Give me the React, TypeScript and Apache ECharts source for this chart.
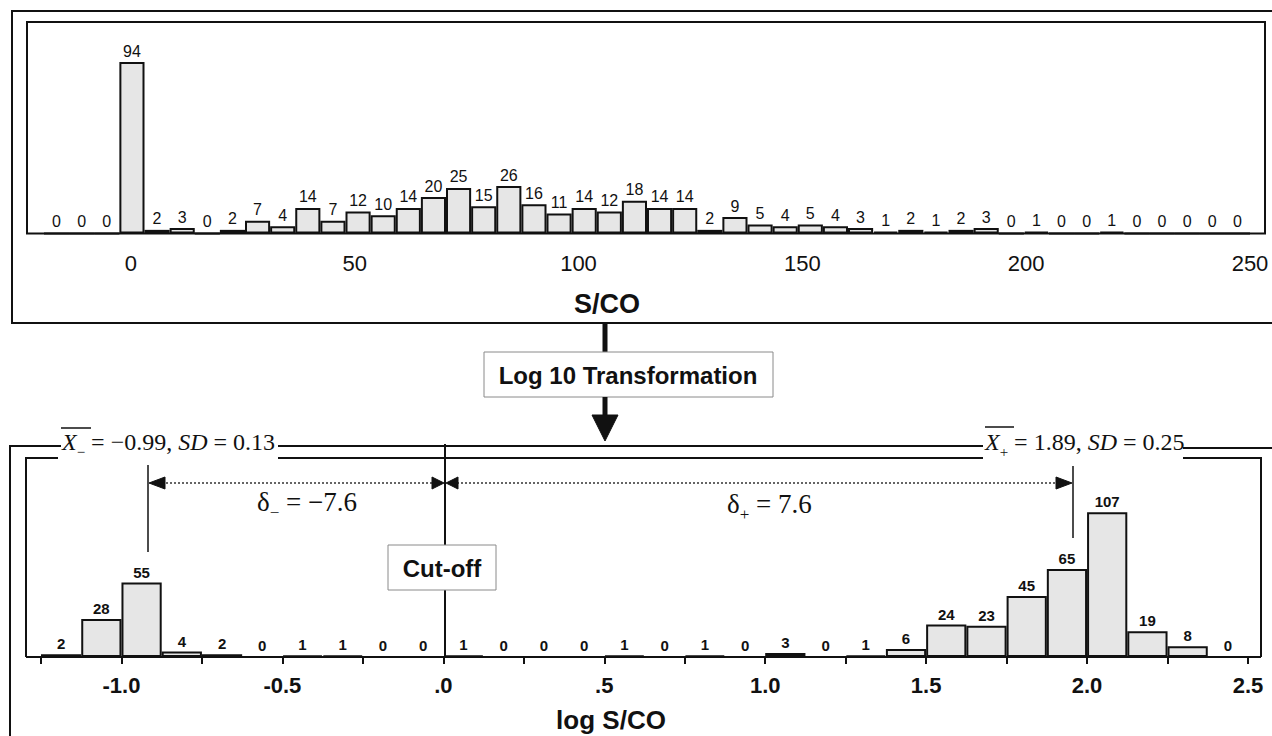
import React, { useEffect, useRef } from "react";
import * as echarts from "echarts";

// ---------- DATA ----------
// Upper histogram: raw S/CO, 48 bins
const topBins = [
  "b01", "b02", "b03", "b04", "b05", "b06", "b07", "b08", "b09", "b10", "b11", "b12",
  "b13", "b14", "b15", "b16", "b17", "b18", "b19", "b20", "b21", "b22", "b23", "b24",
  "b25", "b26", "b27", "b28", "b29", "b30", "b31", "b32", "b33", "b34", "b35", "b36",
  "b37", "b38", "b39", "b40", "b41", "b42", "b43", "b44", "b45", "b46", "b47", "b48",
];
const topCounts = [
  0, 0, 0, 94, 2, 3, 0, 2, 7, 4, 14, 7, 12, 10, 14, 20, 25, 15, 26, 16, 11, 14, 12, 18,
  14, 14, 2, 9, 5, 4, 5, 4, 3, 1, 2, 1, 2, 3, 0, 1, 0, 0, 1, 0, 0, 0, 0, 0,
];
const topTickValues = [0, 50, 100, 150, 200, 250];

// Lower histogram: log10 S/CO, bins of 0.125 from -1.25 to 2.5
const bottomBins = [
  "-1.250", "-1.125", "-1.000", "-0.875", "-0.750", "-0.625", "-0.500", "-0.375",
  "-0.250", "-0.125", "0.000", "0.125", "0.250", "0.375", "0.500", "0.625",
  "0.750", "0.875", "1.000", "1.125", "1.250", "1.375", "1.500", "1.625",
  "1.750", "1.875", "2.000", "2.125", "2.250", "2.375",
];
const bottomCounts = [
  2, 28, 55, 4, 2, 0, 1, 1, 0, 0, 1, 0, 0, 0, 1, 0, 1, 0, 3, 0, 1, 6, 24, 23, 45, 65, 107, 19, 8, 0,
];
const bottomTickValues = [-1, -0.5, 0, 0.5, 1, 1.5, 2, 2.5];
const bottomTickLabels = ["-1.0", "-0.5", ".0", ".5", "1.0", "1.5", "2.0", "2.5"];

// ---------- STYLE ----------
const SANS = '"Liberation Sans", Arial, Helvetica, sans-serif';
const SERIF = '"Liberation Serif", "Times New Roman", serif';
const INK = "#111";
const BAR_FILL = "#e6e6e6";

function pl(points: number[][], w = 2, extra: any = {}) {
  return {
    type: "polyline",
    silent: true,
    shape: { points },
    style: { stroke: INK, lineWidth: w, fill: null, ...extra },
  };
}

function poly(points: number[][]) {
  return { type: "polygon", silent: true, shape: { points }, style: { fill: INK, stroke: INK, lineWidth: 1 } };
}

function txt(x: number, y: number, text: string, size: number, weight = "normal", family = SANS, align = "center") {
  return {
    type: "text",
    silent: true,
    x,
    y,
    style: {
      text,
      fontSize: size,
      fontWeight: weight,
      fontFamily: family,
      fill: INK,
      textAlign: align,
      align,
      textVerticalAlign: "middle",
      verticalAlign: "middle",
    },
  };
}

function richTxt(x: number, y: number, text: string, size: number, subSize: number, lh: number) {
  const base = { fontFamily: SERIF, fill: INK, color: INK };
  return {
    type: "text",
    silent: true,
    x,
    y,
    style: {
      text,
      fontFamily: SERIF,
      fontSize: size,
      fill: INK,
      textAlign: "left",
      align: "left",
      textVerticalAlign: "middle",
      verticalAlign: "middle",
      rich: {
        i: { ...base, fontStyle: "italic", fontSize: size, lineHeight: lh },
        n: { ...base, fontSize: size, lineHeight: lh },
        s: { ...base, fontSize: subSize, lineHeight: lh, verticalAlign: "bottom" },
      },
    },
  };
}

export default function App() {
  const ref = useRef<HTMLDivElement>(null);

  useEffect(() => {
    document.body.style.margin = "0";
    const chart = echarts.init(ref.current as HTMLDivElement, null, { renderer: "svg" });

    const barStyle = { color: BAR_FILL, borderColor: INK, borderWidth: 2 };

    const graphics: any[] = [
      // upper panel frames
      { type: "rect", silent: true, shape: { x: 12, y: 11, width: 1290, height: 312 }, style: { fill: null, stroke: INK, lineWidth: 2 } },
      { type: "rect", silent: true, shape: { x: 27, y: 22, width: 1238, height: 211.5 }, style: { fill: null, stroke: INK, lineWidth: 2 } },
      txt(607, 304, "S/CO", 27, "bold"),

      // transformation connector
      pl([[605, 324], [605, 352]], 5),
      { type: "rect", silent: true, shape: { x: 484, y: 352, width: 289, height: 45 }, style: { fill: "#fff", stroke: "#8a8a8a", lineWidth: 1 } },
      txt(628, 375, "Log 10 Transformation", 24, "bold"),
      pl([[605, 397], [605, 418]], 5),
      poly([[592, 415], [618, 415], [605, 441]]),

      // lower panel frames (double line with gaps for statistics)
      pl([[10, 760], [10, 446], [61, 446]]),
      pl([[278, 446], [983, 446]]),
      pl([[1183, 448], [1290, 448]]),
      pl([[26, 657], [26, 458], [58, 458]]),
      pl([[278, 458], [983, 458]]),
      pl([[1183, 458], [1261, 458], [1261, 657]]),
      pl([[26, 657], [1261, 657]]),

      // statistics text
      richTxt(62, 442, "{i|X}{s|−}{n| = −0.99, }{i|SD}{n| = 0.13}", 24, 15, 34),
      pl([[61, 428], [91, 428]], 1.5),
      richTxt(985, 442, "{i|X}{s|+}{n| = 1.89, }{i|SD}{n| = 0.25}", 24, 15, 34),
      pl([[985, 427], [1014, 427]], 1.5),

      // mean markers
      pl([[148, 465], [148, 552]], 1.5),
      pl([[1073, 466], [1073, 538]], 1.5),

      // cut-off line
      pl([[445, 444], [445, 657]], 2),

      // distance arrows
      pl([[162, 483], [433, 483]], 1.5, { lineDash: [2, 2], stroke: "#333" }),
      pl([[457, 483], [1057, 483]], 1.5, { lineDash: [2, 2], stroke: "#333" }),
      poly([[149, 483], [165, 477], [165, 489]]),
      poly([[444, 483], [432, 477], [432, 489]]),
      poly([[446, 483], [458, 477], [458, 489]]),
      poly([[1072, 483], [1056, 477], [1056, 489]]),

      richTxt(257, 502, "{n|δ}{s|−}{n| = −7.6}", 27, 17, 38),
      richTxt(727, 504, "{n|δ}{s|+}{n| = 7.6}", 27, 17, 38),

      // cut-off label
      { type: "rect", silent: true, shape: { x: 388, y: 545, width: 108, height: 45 }, style: { fill: "#fff", stroke: "#8a8a8a", lineWidth: 1 } },
      txt(442, 568, "Cut-off", 24, "bold"),

      txt(611, 720, "log S/CO", 26, "bold"),
    ];

    const option: any = {
      animation: false,
      backgroundColor: "#fff",
      textStyle: { fontFamily: SANS },
      grid: [
        { left: 44, right: 22, top: 22, bottom: 502.5, containLabel: false },
        { left: 41, right: 24, top: 458, bottom: 79, containLabel: false },
      ],
      xAxis: [
        { type: "category", gridIndex: 0, data: topBins, show: false, position: "top" },
        {
          type: "value",
          gridIndex: 0,
          position: "bottom",
          min: -19.4,
          max: 250,
          axisLine: { show: false },
          axisTick: { show: false },
          splitLine: { show: false },
          axisLabel: {
            customValues: topTickValues,
            fontSize: 22,
            color: INK,
            fontFamily: SANS,
            margin: 19,
            showMaxLabel: true,
          },
        },
        { type: "category", gridIndex: 1, data: bottomBins, show: false, position: "top" },
        {
          type: "value",
          gridIndex: 1,
          position: "bottom",
          min: -1.25,
          max: 2.5,
          interval: 0.25,
          axisLine: { show: false },
          axisTick: { show: true, length: 7, lineStyle: { color: INK, width: 2 } },
          splitLine: { show: false },
          axisLabel: {
            customValues: bottomTickValues,
            fontSize: 22,
            fontWeight: "bold",
            color: INK,
            fontFamily: SANS,
            margin: 17,
            showMaxLabel: true,
            formatter: (v: number) => {
              const k = bottomTickValues.findIndex((t) => Math.abs(t - v) < 1e-6);
              return k >= 0 ? bottomTickLabels[k] : "";
            },
          },
        },
      ],
      yAxis: [
        { type: "value", gridIndex: 0, min: 0, max: 116, show: false },
        { type: "value", gridIndex: 1, min: 0, max: 147, show: false },
      ],
      series: [
        {
          type: "bar",
          xAxisIndex: 0,
          yAxisIndex: 0,
          data: topCounts,
          barCategoryGap: "0%",
          itemStyle: barStyle,
          label: { show: true, position: "top", distance: 3, fontSize: 16, color: INK, fontFamily: SANS },
          z: 2,
        },
        {
          type: "bar",
          xAxisIndex: 2,
          yAxisIndex: 1,
          data: bottomCounts,
          barCategoryGap: "0%",
          itemStyle: barStyle,
          label: { show: true, position: "top", distance: 3, fontSize: 15, fontWeight: "bold", color: INK, fontFamily: SANS },
          z: 2,
        },
      ],
      graphic: { elements: graphics },
    };

    chart.setOption(option);
    return () => chart.dispose();
  }, []);

  return <div ref={ref} style={{ position: "absolute", left: 0, top: 0, width: 1272, height: 736 }} />;
}
